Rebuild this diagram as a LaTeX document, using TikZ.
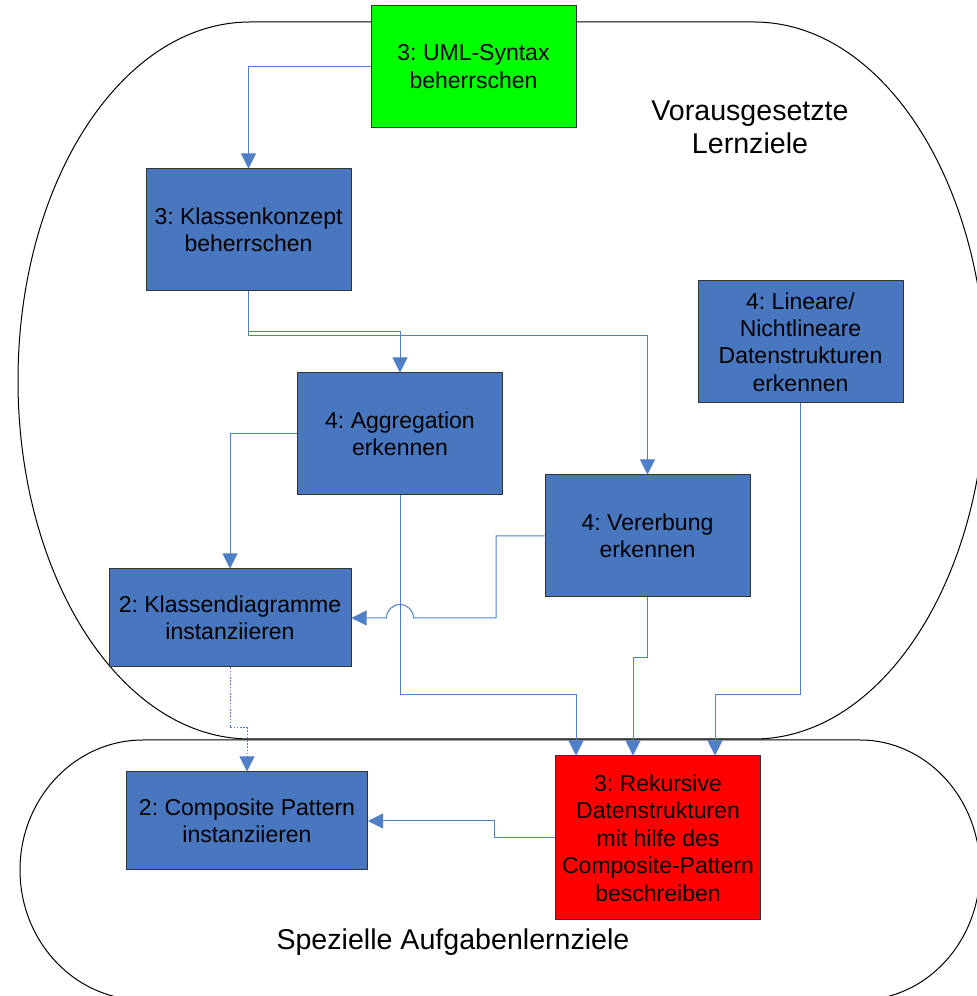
\documentclass[tikz,border=0pt]{standalone}
\usepackage{fontspec}
\setmainfont{Liberation Sans}
\usetikzlibrary{arrows.meta}
\definecolor{boxblue}{RGB}{73,119,191}
\definecolor{lineblue}{RGB}{79,127,198}
\definecolor{goalgreen}{RGB}{0,255,0}
\definecolor{goalred}{RGB}{255,0,0}
\frenchspacing

\begin{document}
\begin{tikzpicture}[x=0.5pt,y=0.5pt,
  box/.style={draw=black!80,line width=0.5pt,fill=boxblue,align=center,inner sep=0pt,
    minimum width=102.5pt,minimum height=61pt,font=\fontsize{11.5}{13.7}\selectfont},
  conn/.style={draw=lineblue,line width=0.5pt,-{Triangle[length=7.5pt,width=7.5pt]}},
  blob/.style={draw=black,line width=0.5pt},
  area/.style={align=center,font=\fontsize{14.3}{16.5}\selectfont}]
  \useasboundingbox (0,0) rectangle (977,996);
  \clip (0,0) rectangle (977,996);

  \draw[blob] (250,974) -- (754,974) arc[start angle=90,end angle=-90,x radius=232,y radius=358.5]
    -- (250,257) arc[start angle=270,end angle=90,x radius=232,y radius=358.5] -- cycle;
  \draw[blob] (143,256) -- (860,256) arc[start angle=90,end angle=-90,x radius=120,y radius=130]
    -- (143,-4) arc[start angle=270,end angle=90,x radius=123,y radius=130] -- cycle;

  \node[area] (prereq) at (750,869) {Vorausgesetzte\\Lernziele};
  \node[area] (special) at (453,54) {Spezielle Aufgabenlernziele};

  \node[box,fill=goalgreen] (uml) at (473.5,929.5) {3: UML-Syntax\\beherrschen};
  \node[box] (konzept) at (248.5,766) {3: Klassenkonzept\\beherrschen};
  \node[box] (aggr) at (400,562) {4: Aggregation\\erkennen};
  \node[box] (vererb) at (647.5,460) {4: Vererbung\\erkennen};
  \node[box] (linear) at (800.5,654) {4: Lineare/\\Nichtlineare\\Datenstrukturen\\erkennen};
  \node[box,minimum width=121pt,minimum height=49pt] (kdiag) at (230,378) {2: Klassendiagramme\\instanziieren};
  \node[box,minimum width=120.5pt,minimum height=49pt] (comp) at (247,175) {2: Composite Pattern\\instanziieren};
  \node[box,fill=goalred,minimum height=82pt] (rekurs) at (658,158)
    {3: Rekursive\\Datenstrukturen\\mit hilfe des\\Composite-Pattern\\beschreiben};

  \coordinate (busA) at (0,664);
  \coordinate (busB) at (0,660);
  \coordinate (busC) at (0,301);
  \coordinate (busD) at (0,338);
  \coordinate (busE) at (0,268);
  \coordinate (vbend) at (496,0);
  \coordinate (cbend) at (494,0);
  \coordinate (hop) at ([xshift=6.75pt]aggr.south);

  \draw[conn] (uml.west) -| (konzept.north);
  \draw[conn] (konzept.south) -- (konzept.south |- busA) -| (aggr.north);
  \draw[conn] (konzept.south) -- (konzept.south |- busB) -| (vererb.north);
  \draw[conn] (aggr.west) -| (kdiag.north);
  \draw[conn] (vererb.west) -| (vbend |- kdiag.east) -- (hop |- kdiag.east)
    arc[start angle=0,end angle=180,radius=6.75pt] -- (kdiag.east);
  \draw[conn] (aggr.south) -- (aggr.south |- busC) -| ([xshift=-41pt]rekurs.north);
  \draw[conn] (vererb.south) -- (vererb.south |- busD) -| ([xshift=-12.5pt]rekurs.north);
  \draw[conn] (linear.south) -- (linear.south |- busC) -| ([xshift=28.5pt]rekurs.north);
  \draw[conn,dash pattern=on 0.8pt off 0.8pt] (kdiag.south) -- (kdiag.south |- busE) -| (comp.north);
  \draw[conn] (rekurs.west) -| (cbend |- comp.east) -- (comp.east);
\end{tikzpicture}
\end{document}
